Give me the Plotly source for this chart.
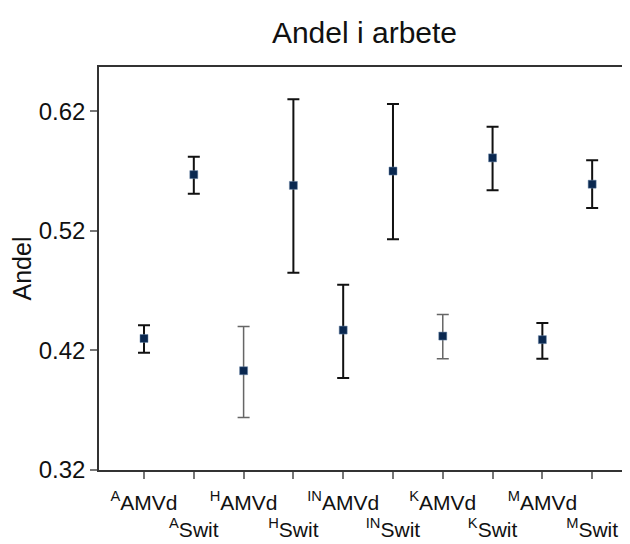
import plotly.graph_objects as go

# Data
prefixes = ["A", "A", "H", "H", "IN", "IN", "K", "K", "M", "M"]
groups = ["AMVd", "Swit", "AMVd", "Swit", "AMVd", "Swit", "AMVd", "Swit", "AMVd", "Swit"]
values = [0.430, 0.567, 0.403, 0.558, 0.437, 0.570, 0.432, 0.581, 0.429, 0.559]
upper = [0.441, 0.582, 0.440, 0.630, 0.475, 0.626, 0.450, 0.607, 0.443, 0.579]
lower = [0.418, 0.551, 0.364, 0.485, 0.397, 0.513, 0.413, 0.554, 0.413, 0.539]
y_ticks = [0.32, 0.42, 0.52, 0.62]

categories = [f"{p} {g}" for p, g in zip(prefixes, groups)]
ticktext = []
for i, (p, g) in enumerate(zip(prefixes, groups)):
    lab = f"<sup>{p}</sup>{g}"
    ticktext.append(lab if i % 2 == 0 else "<br>" + lab)

thin = {2, 6}

fig = go.Figure()
for i, c in enumerate(categories):
    col = "#666666" if i in thin else "#111111"
    th = 1.5 if i in thin else 2
    fig.add_trace(go.Scatter(
        x=[c], y=[values[i]], mode="markers",
        marker=dict(symbol="square", size=8, color="#0a2850",
                    line=dict(width=0.5, color="#6a86a8")),
        error_y=dict(type="data", symmetric=False,
                     array=[upper[i] - values[i]],
                     arrayminus=[values[i] - lower[i]],
                     color=col, thickness=th, width=6),
        showlegend=False,
    ))

fig.update_layout(
    width=622, height=536,
    margin=dict(l=91, r=0, t=59, b=74, autoexpand=False),
    paper_bgcolor="white", plot_bgcolor="white",
    font=dict(family="Liberation Sans, Arial", color="#111111"),
    title=dict(text="Andel i arbete", x=0.5, xref="paper", xanchor="center",
               y=1 - 24 / 536, yref="container", yanchor="middle",
               font=dict(size=30, color="#111111")),
    xaxis=dict(type="category", categoryorder="array", categoryarray=categories,
               tickmode="array", tickvals=categories, ticktext=ticktext,
               tickangle=0, automargin=False, ticklabelstandoff=6,
               range=[-0.904, 9.76], showgrid=False, zeroline=False,
               showline=True, mirror=True, linecolor="#333333", linewidth=1.5,
               ticks="outside", ticklen=7, tickcolor="#777777", tickwidth=1.5,
               tickfont=dict(size=21, color="#111111")),
    yaxis=dict(range=[0.32, 0.657], tickmode="array", tickvals=y_ticks,
               ticktext=[f"{v:.2f}" for v in y_ticks], automargin=False,
               showgrid=False, zeroline=False,
               showline=True, mirror=False, linecolor="#333333", linewidth=1.5,
               ticks="outside", ticklen=7, tickcolor="#777777", tickwidth=1.5,
               tickfont=dict(size=24, color="#111111"),
               title=dict(text="Andel", font=dict(size=25, color="#111111"), standoff=0)),
)

fig.write_html("out.html")
